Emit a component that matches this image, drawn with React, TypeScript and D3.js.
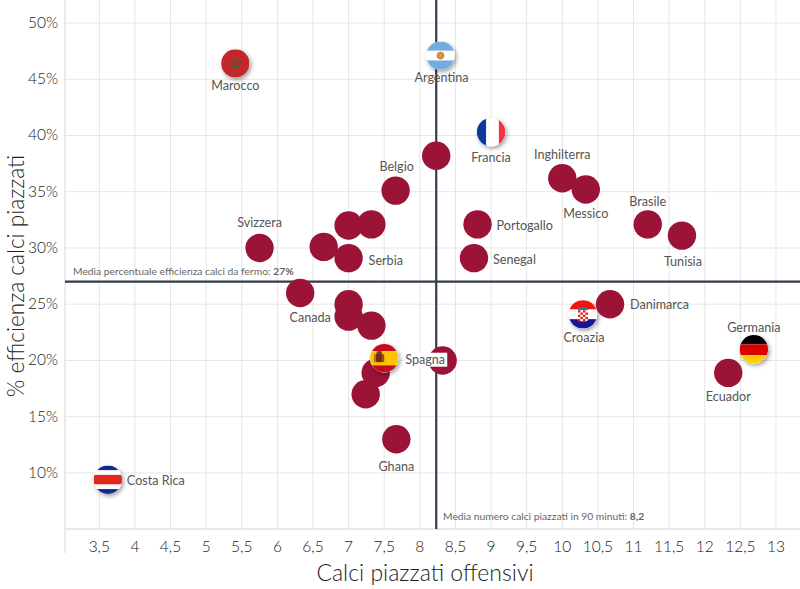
import * as d3 from 'd3';

const teams = ['', 'Belgio', 'Inghilterra', 'Messico', 'Brasile', 'Tunisia', 'Portogallo', 'Senegal', 'Svizzera', '', '', '', 'Serbia', '', '', '', '', 'Croazia', 'Danimarca', 'Ecuador', '', '', '', 'Ghana', 'Germania', 'Spagna', 'Marocco', 'Argentina', 'Francia', 'Costa Rica'];
const setPieces = [8.23, 7.66, 10.0, 10.33, 11.2, 11.68, 8.81, 8.76, 5.75, 7.0, 7.32, 6.65, 7.0, 6.32, 7.0, 7.0, 7.32, 10.29, 10.67, 12.33, 8.32, 7.38, 7.24, 7.67, 12.69, 7.5, 5.41, 8.29, 9.0, 3.62];
const efficiency = [38.2, 35.1, 36.2, 35.2, 32.1, 31.1, 32.1, 29.1, 30.0, 32.0, 32.1, 30.1, 29.1, 26.0, 25.0, 23.9, 23.1, 24.1, 25.0, 18.9, 20.0, 18.9, 17.0, 13.0, 21.0, 20.2, 46.4, 47.1, 40.3, 9.4];

const xTicks = [3.5, 4, 4.5, 5, 5.5, 6, 6.5, 7, 7.5, 8, 8.5, 9, 9.5, 10, 10.5, 11, 11.5, 12, 12.5, 13];
const yTicks = [10, 15, 20, 25, 30, 35, 40, 45, 50];
const meanSetPieces = 8.23;
const meanEfficiency = 27;

// label offset from the centre of the dot, in px
const labelPlace: Record<string, [number, number, string]> = {
  Marocco: [0, 22, 'middle'],
  Argentina: [1, 22, 'middle'],
  Francia: [0, 25, 'middle'],
  Belgio: [1, -24, 'middle'],
  Inghilterra: [0, -24, 'middle'],
  Messico: [0, 24, 'middle'],
  Brasile: [0, -23, 'middle'],
  Tunisia: [1, 26, 'middle'],
  Portogallo: [19, 1, 'start'],
  Senegal: [19, 1, 'start'],
  Svizzera: [0, -25, 'middle'],
  Serbia: [20, 2, 'start'],
  Canada: [10, 25, 'middle'],
  Danimarca: [20, 0, 'start'],
  Croazia: [1, 23, 'middle'],
  Germania: [0, -22, 'middle'],
  Ecuador: [0, 24, 'middle'],
  Spagna: [21, 1, 'start'],
  Ghana: [0, 27, 'middle'],
  'Costa Rica': [19, 1, 'start'],
};

const W = 800;
const H = 589;
const FONT = 'Lato, "Open Sans", sans-serif';
const R = 14.2;

const x = d3.scaleLinear().domain([3, 13.35]).range([63.7, 800.9]);
const y = d3.scaleLinear().domain([5, 52]).range([529.2, 0.5]);

const fmt = (v: number) => String(v).replace('.', ',');

function Flag({ name }: { name: string }) {
  const r = R;
  const bar = (from: number, to: number, fill: string) => (
    <rect x={-r} y={from * r} width={2 * r} height={(to - from) * r} fill={fill} />
  );
  const col = (from: number, to: number, fill: string) => (
    <rect x={from * r} y={-r} width={(to - from) * r} height={2 * r} fill={fill} />
  );
  switch (name) {
    case 'Marocco':
      return (
        <g>
          {bar(-1, 1, '#c1272d')}
          <path
            d={d3.line()(d3.range(6).map(i => {
              const a = (i * 4 * Math.PI) / 5 - Math.PI / 2;
              return [Math.cos(a) * 6, Math.sin(a) * 6] as [number, number];
            })) || ''}
            fill="none"
            stroke="#2f6b2f"
            strokeWidth={0.8}
          />
        </g>
      );
    case 'Argentina':
      return (
        <g>
          {bar(-1, -0.34, '#74acdf')}
          {bar(-0.34, 0.34, '#fff')}
          {bar(0.34, 1, '#74acdf')}
          <circle r={3.8} fill="#c98a3a" />
          <circle r={1.8} fill="#e8a020" />
        </g>
      );
    case 'Francia':
      return (
        <g>
          {col(-1, -0.34, '#0a3a9a')}
          {col(-0.34, 0.55, '#fff')}
          {col(0.55, 1, '#ef3340')}
        </g>
      );
    case 'Spagna':
      return (
        <g>
          {bar(-1, -0.5, '#c60b1e')}
          {bar(-0.5, 0.5, '#ffc400')}
          {bar(0.5, 1, '#c60b1e')}
          <rect x={-8.5} y={-5} width={7} height={9} rx={1.5} fill="#7a2a1a" />
          <rect x={-7.5} y={-7} width={5} height={2.5} fill="#5a4a20" />
          <rect x={-10} y={-4} width={1.2} height={8} fill="#6b5a40" />
          <rect x={-1.2} y={-4} width={1.2} height={8} fill="#6b5a40" />
        </g>
      );
    case 'Croazia':
      return (
        <g>
          {bar(-1, -0.34, '#f0160f')}
          {bar(-0.34, 0.34, '#fff')}
          {bar(0.34, 1, '#171796')}
          <rect x={-5} y={-7} width={10} height={3} fill="#4a6aa0" />
          <rect x={-5} y={-4} width={10} height={11} rx={2} fill="#fff" />
          {d3.range(5).map(row =>
            d3.range(4).filter(c => (c + row) % 2 === 0).map(c => (
              <rect key={`${row}-${c}`} x={-5 + c * 2.5} y={-4 + row * 2.2} width={2.5} height={2.2} fill="#e0201b" />
            ))
          )}
        </g>
      );
    case 'Germania':
      return (
        <g>
          {bar(-1, -0.34, '#000')}
          {bar(-0.34, 0.42, '#dd0000')}
          {bar(0.42, 1, '#ffce00')}
        </g>
      );
    case 'Costa Rica':
      return (
        <g>
          {bar(-1, -0.66, '#14288a')}
          {bar(-0.66, -0.34, '#fff')}
          {bar(-0.34, 0.34, '#e0281c')}
          {bar(0.34, 0.66, '#fff')}
          {bar(0.66, 1, '#14288a')}
        </g>
      );
    default:
      return null;
  }
}

const flagTeams = ['Marocco', 'Argentina', 'Francia', 'Spagna', 'Croazia', 'Germania', 'Costa Rica'];

export default function App() {
  const points = teams.map((team, i) => ({ team, cx: x(setPieces[i]), cy: y(efficiency[i]) }));
  const canadaDot = points[13];

  return (
    <svg
      width={W}
      height={H}
      style={{ position: 'absolute', left: 0, top: 0, background: '#fff', fontFamily: FONT }}
    >
      <defs>
        <clipPath id="flag-clip">
          <circle r={R} />
        </clipPath>
        <filter id="flag-shadow" x="-50%" y="-50%" width="200%" height="200%">
          <feDropShadow dx={1.5} dy={2} stdDeviation={2} floodColor="#000" floodOpacity={0.4} />
        </filter>
      </defs>

      {/* grid */}
      {xTicks.map(t => (
        <line key={t} x1={x(t)} x2={x(t)} y1={0} y2={529} stroke="#e6e6e6" strokeWidth={1} />
      ))}
      {yTicks.map(t => (
        <line key={t} x1={65} x2={W} y1={y(t)} y2={y(t)} stroke="#e6e6e6" strokeWidth={1} />
      ))}
      <line x1={65} x2={W} y1={529} y2={529} stroke="#e0e0e0" strokeWidth={1.5} />
      <line x1={65} x2={65} y1={0} y2={553} stroke="#e0e0e0" strokeWidth={1.2} />

      {/* tick labels */}
      {xTicks.map(t => (
        <text key={t} x={x(t)} y={552} textAnchor="middle" fontSize={15.5} fontWeight={300} fill="#222">
          {fmt(t)}
        </text>
      ))}
      {yTicks.map(t => (
        <text key={t} x={58} y={y(t) + 5} textAnchor="end" fontSize={15.5} fontWeight={300} fill="#222">
          {t}%
        </text>
      ))}

      {/* axis titles */}
      <text x={425} y={581} textAnchor="middle" fontSize={23} fontWeight={300} fill="#222">
        Calci piazzati offensivi
      </text>
      <text
        transform="translate(24,276) rotate(-90)"
        textAnchor="middle"
        fontSize={22.6}
        fontWeight={300}
        fill="#222"
      >
        % efficienza calci piazzati
      </text>

      {/* mean lines */}
      <line x1={x(meanSetPieces)} x2={x(meanSetPieces)} y1={0} y2={529} stroke="#333c4d" strokeWidth={2.2} />
      <line x1={65} x2={W} y1={y(meanEfficiency)} y2={y(meanEfficiency)} stroke="#333c4d" strokeWidth={2.2} />
      <text x={73} y={275} fontSize={10.3} fill="#666">
        Media percentuale efficienza calci da fermo: <tspan fontWeight={700}>27%</tspan>
      </text>
      <text x={443} y={520} fontSize={10.3} fill="#666">
        Media numero calci piazzati in 90 minuti: <tspan fontWeight={700}>8,2</tspan>
      </text>

      {/* dots and flags */}
      {points.map((p, i) =>
        flagTeams.includes(p.team) ? (
          <g key={i} transform={`translate(${p.cx},${p.cy})`}>
            <circle r={R} fill="#fff" filter="url(#flag-shadow)" />
            <g clipPath="url(#flag-clip)">
              <Flag name={p.team} />
            </g>
          </g>
        ) : (
          <circle key={i} cx={p.cx} cy={p.cy} r={R} fill="#9b1337" />
        )
      )}

      {/* labels */}
      {points.filter(p => p.team).map(p => {
        const [dx, dy, anchor] = labelPlace[p.team];
        const lx = p.cx + dx;
        const ly = p.cy + dy + 4.5;
        return (
          <g key={p.team}>
            {p.team === 'Spagna' && <rect x={lx - 1} y={ly - 11} width={43} height={14} fill="#fff" />}
            <text x={lx} y={ly} textAnchor={anchor} fontSize={12.6} fill="#555">
              {p.team}
            </text>
          </g>
        );
      })}
      <text
        x={canadaDot.cx + labelPlace.Canada[0]}
        y={canadaDot.cy + labelPlace.Canada[1] + 4.5}
        textAnchor="middle"
        fontSize={12.6}
        fill="#555"
      >
        Canada
      </text>
    </svg>
  );
}
